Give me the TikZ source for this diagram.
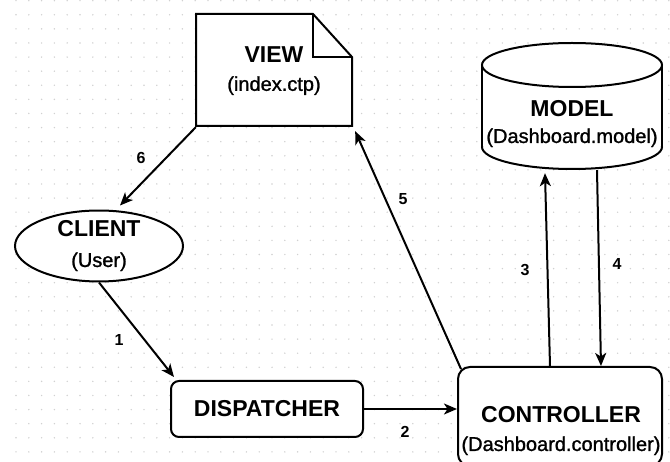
\documentclass[tikz,border=0pt]{standalone}
\usepackage{fontspec}
\setmainfont{Liberation Sans}
\newfontfamily\heavyreg{Liberation Sans}[FakeBold=1.2]
\usetikzlibrary{arrows.meta,calc,shapes.geometric}
\newcommand\ttl[1]{{\fontsize{23}{27}\selectfont\bfseries #1}}
\newcommand\subt[1]{{\heavyreg\fontsize{20}{27}\selectfont #1}}
\tikzset{
  shapeline/.style={draw=black, line width=2pt, fill=white},
  box/.style={shapeline, rounded corners=8pt, inner sep=0pt, align=center},
  txt/.style={inner sep=0pt, align=center, font=\fontsize{20}{28}\selectfont},
  lbl/.style={inner sep=0pt, font=\fontsize{16}{16}\selectfont\bfseries},
  arr/.style={line width=2pt, -{Stealth[length=13pt,width=11pt,inset=3.5pt]}},
  griddot/.style={fill=black!18}
}
\begin{document}
\begin{tikzpicture}[x=1pt,y=-1pt]
\useasboundingbox (0,0) rectangle (670,462);
\clip (0,0) rectangle (670,462);
\fill[white] (0,0) rectangle (670,462);
% dotted grid
\foreach \i in {0,...,51}{
  \foreach \j in {0,...,33}{
    \fill[griddot] (16+12.8*\i, 0.7+14.1*\j) circle (0.8pt);
  }
}
% VIEW document
\path[shapeline, line join=miter] (196,14) -- (313,14) -- (352,57) -- (352,126) -- (196,126) -- cycle;
\draw[line width=2pt, line join=miter] (313,14) -- (313,57) -- (352,57);
\node[txt, minimum width=156pt, minimum height=112pt] (view) at (274,71) {\ttl{VIEW}\\\subt{(index.ctp)}};
% MODEL cylinder
\fill[white] (482,65) rectangle (662,147);
\begin{scope}
  \clip (470,147) rectangle (680,185);
  \path[shapeline] (572,147) ellipse [x radius=90pt, y radius=22pt];
\end{scope}
\draw[line width=2pt] (482,65) -- (482,147) (662,65) -- (662,147);
\path[shapeline] (572,65) ellipse [x radius=90pt, y radius=22pt];
\node[inner sep=0pt, minimum width=180pt, minimum height=126pt] (model) at (572,106) {};
\node[txt, font=\fontsize{20}{26}\selectfont] (modeltxt) at (572,124) {\ttl{MODEL}\\\subt{(Dashboard.model)}};
% CLIENT
\node[shapeline, ellipse, inner sep=0pt, minimum width=168pt, minimum height=68pt, align=center, font=\fontsize{20}{30}\selectfont] (client) at (99,246) {\ttl{CLIENT}\\\subt{(User)}};
% DISPATCHER
\node[box, minimum width=192pt, minimum height=56pt] (dispatcher) at (267,409) {\ttl{DISPATCHER}};
% CONTROLLER
\node[box, rounded corners=12pt, minimum width=204pt, minimum height=99pt] (controller) at (560,416.5) {};
\node[txt, font=\fontsize{20}{28}\selectfont] (ctrltxt) at (561,431) {\ttl{CONTROLLER}\\\subt{(Dashboard.controller)}};
% connectors
\draw[arr] (client.south) -- ($(dispatcher.north west)+(4,-3)$);
\draw[arr] (dispatcher.east) -- (dispatcher.east -| controller.west);
\draw[arr] ($(controller.north)+(-10,0)$) -- ($(model.south)+(-27,4)$);
\draw[arr] ($(model.south)+(25,1)$) -- ($(controller.north)+(41,0)$);
\draw[arr] ($(controller.north west)+(4,3)$) -- ($(view.south east)+(3,4)$);
\draw[arr] (view.south west) -- ($(client.north)+(21,-4)$);
% labels
\node[lbl] (l1) at (119,340) {1};
\node[lbl] (l2) at (405,432) {2};
\node[lbl] (l3) at (525,270) {3};
\node[lbl] (l4) at (617,264) {4};
\node[lbl] (l5) at (403,199) {5};
\node[lbl] (l6) at (141,158) {6};
\end{tikzpicture}
\end{document}
